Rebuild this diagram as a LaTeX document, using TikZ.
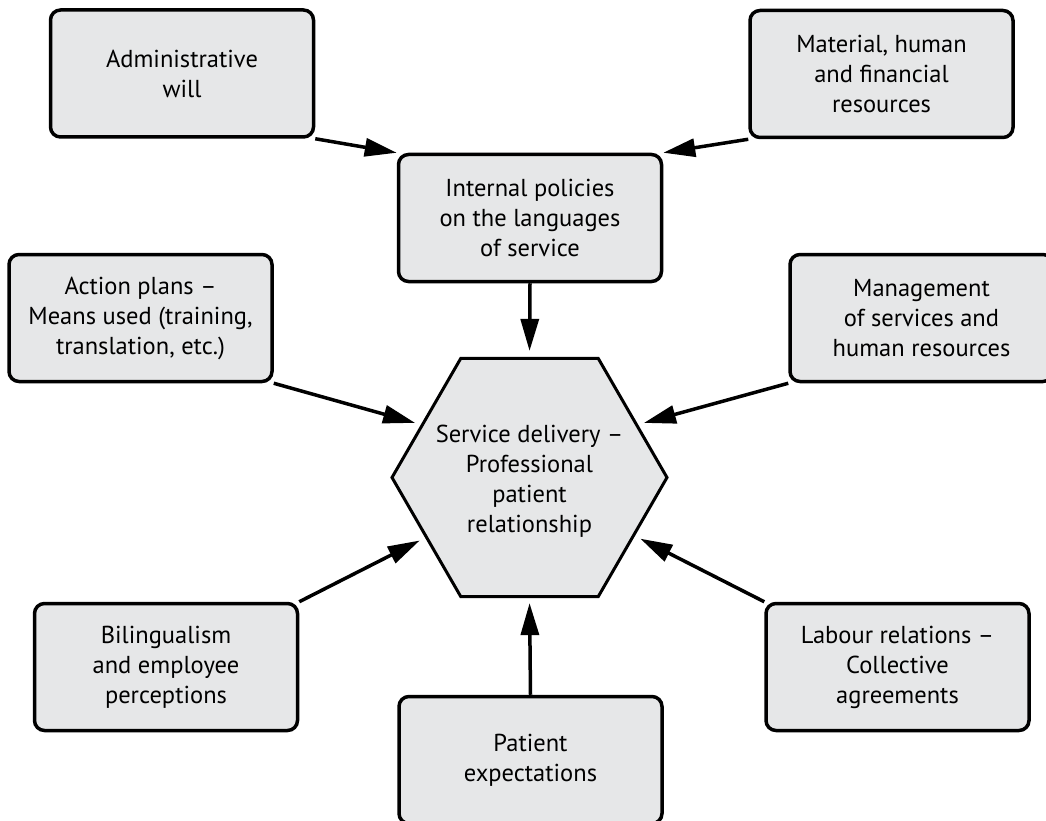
\documentclass[tikz,border=0pt]{standalone}
\usepackage{fontspec}
\setmainfont{PT Sans}
\usetikzlibrary{shapes.geometric,arrows.meta}
\definecolor{boxgray}{RGB}{230,231,232}
\tikzset{
  blok/.style={draw, line width=3.5pt, fill=boxgray, rounded corners=10pt,
    minimum width=263pt, minimum height=127pt, inner sep=0pt, align=center,
    font=\fontsize{24.5}{30}\selectfont},
  hexa/.style={draw, line width=3pt, fill=boxgray, regular polygon,
    regular polygon sides=6, minimum size=275pt, inner sep=0pt},
  hexatext/.style={align=center, font=\fontsize{24.5}{30}\selectfont},
  strelka/.style={line width=3.5pt, -{Triangle[length=32pt,width=18pt]}},
}
\begin{document}
\begin{tikzpicture}[x=1pt,y=-1pt]
	\path[use as bounding box, clip] (0,0) rectangle (1046,821);
	
	\node[blok] (admin) at (182,73.5) {Administrative\\will};
	\node[blok] (mat) at (881.5,74) {Material, human\\and financial\\resources};
	\node[blok] (int) at (530,218) {Internal policies\\on the languages\\of service};
	\node[blok] (act) at (140.5,318) {Action plans --\\Means used (training,\\translation, etc.)};
	\node[blok] (man) at (921.5,318) {Management\\of services and\\human resources};
	\node[hexa, label={[hexatext, yshift=-4pt]center:Service delivery --\\Professional\\patient\\relationship}] (hex) at (529.5,477.5) {};
	\node[blok] (bil) at (166,667) {Bilingualism\\and employee\\perceptions};
	\node[blok] (lab) at (897.5,667) {Labour relations --\\Collective\\agreements};
	\node[blok] (pat) at (530.5,760) {Patient\\expectations};
	
	\draw[strelka] (admin.south east) -- (int.north west);
	\draw[strelka] (mat.south west) -- (int.north east);
	\draw[strelka, shorten >=6pt] (int.south) -- (hex.north);
	\draw[strelka, shorten >=6pt] (act.south east) -- (hex.154);
	\draw[strelka, shorten >=6pt] (man.south west) -- (hex.26);
	\draw[strelka, shorten >=6pt] (bil.north east) -- (hex.210);
	\draw[strelka, shorten >=6pt] (lab.north west) -- (hex.331);
	\draw[strelka, shorten >=5pt] (pat.north) -- (hex.south);
\end{tikzpicture}
\end{document}
